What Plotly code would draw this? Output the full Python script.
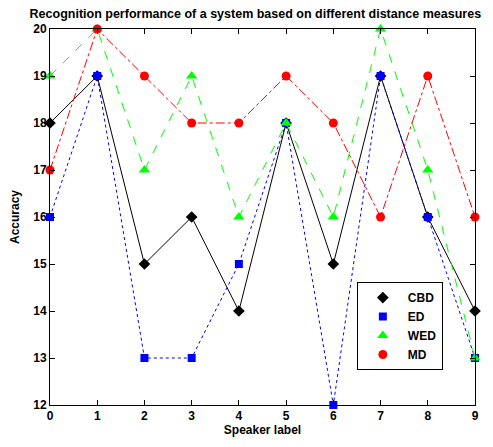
import plotly.graph_objects as go

speakers = [0, 1, 2, 3, 4, 5, 6, 7, 8, 9]
cbd = [18, 19, 15, 16, 14, 18, 15, 19, 16, 14]
ed = [16, 19, 13, 13, 15, 18, 12, 19, 16, 13]
wed = [19, 20, 17, 19, 16, 18, 16, 20, 17, 13]
md = [17, 20, 19, 18, 18, 19, 18, 16, 19, 16]

names = ["CBD", "ED", "WED", "MD"]
series = [cbd, ed, wed, md]
colors = ["black", "#0000ff", "#00ff00", "#ff0000"]
dashes = ["solid", "dot", "dash", "dashdot"]
symbols = ["diamond", "square", "triangle-up", "circle"]
sizes = [9, 8, 10, 9]

font = "Liberation Sans, Arial"

fig = go.Figure()
for n, s, c, d, sym, sz in zip(names, series, colors, dashes, symbols, sizes):
    fig.add_trace(go.Scatter(x=speakers, y=s, name=n, mode="lines+markers", showlegend=False,
                             line=dict(color=c, width=1, dash=d),
                             marker=dict(symbol=sym, size=sz, color=c), cliponaxis=False))
for n, c, sym, sz in zip(names, colors, symbols, sizes):
    fig.add_trace(go.Scatter(x=[None], y=[None], name=n, mode="markers",
                             marker=dict(symbol=sym, size=sz, color=c)))

axis_common = dict(showgrid=False, zeroline=False, showline=True, linecolor="black", linewidth=1,
                   mirror="ticks", ticks="inside", ticklen=5, tickcolor="black", automargin=False,
                   tickfont=dict(family=font, size=12, color="black", weight="bold"))

fig.update_layout(
    width=485, height=439,
    margin=dict(l=42, r=18, t=21, b=42),
    paper_bgcolor="white", plot_bgcolor="white",
    title=dict(text="<b>Recognition performance of a system based on different distance measures</b>",
               x=0.51, xanchor="center", y=0.988, yanchor="middle",
               font=dict(family=font, size=12.5, color="black")),
    xaxis=dict(range=[0, 9], tickvals=speakers, title=dict(text="<b>Speaker label</b>", standoff=2,
               font=dict(family=font, size=12, color="black")), **axis_common),
    yaxis=dict(range=[12, 20], dtick=1, title=dict(text="<b>Accuracy</b>", standoff=11,
               font=dict(family=font, size=12, color="black")), **axis_common),
    legend=dict(x=0.722, y=0.327, xanchor="left", yanchor="top", bgcolor="white",
                bordercolor="black", borderwidth=1, itemwidth=40,
                font=dict(family=font, size=12, color="black", weight="bold")),
)

fig.write_html("out.html")
